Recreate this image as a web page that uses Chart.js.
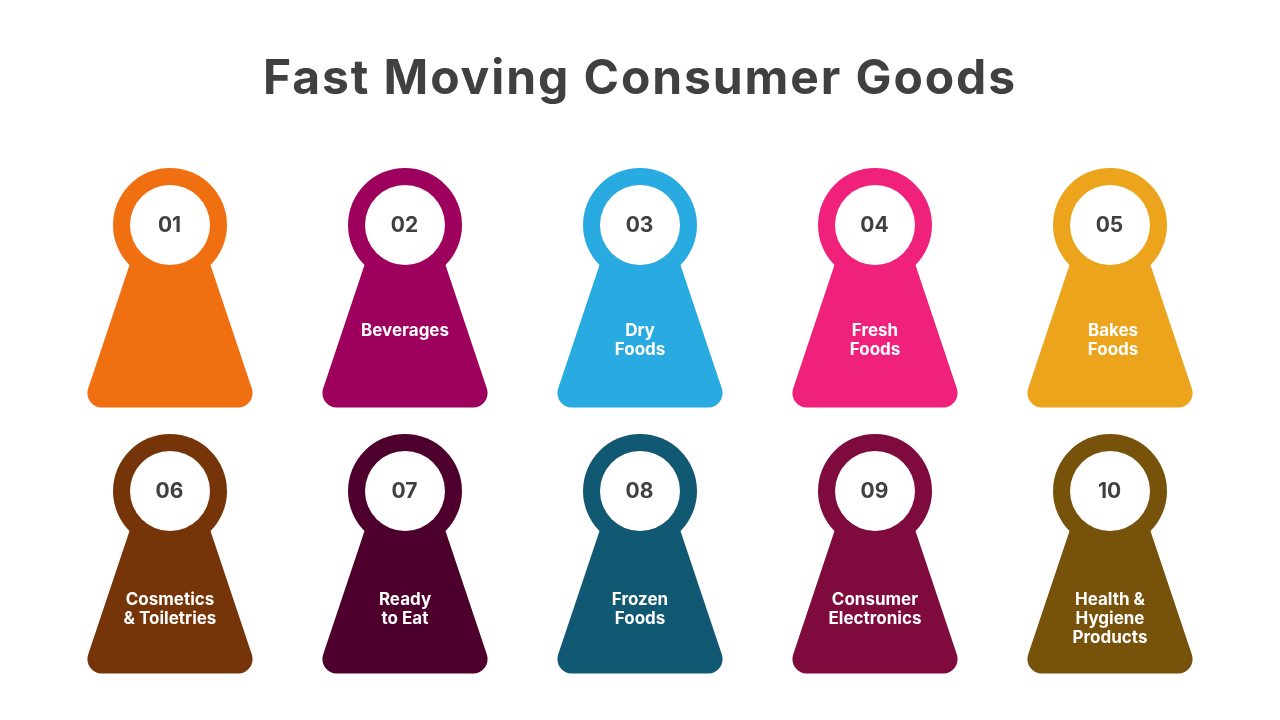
<!DOCTYPE html>
<html>
<head>
<meta charset="utf-8">
<title>Fast Moving Consumer Goods</title>
<script src="https://cdn.jsdelivr.net/npm/chart.js@4"></script>
<style>
    html, body { margin: 0; padding: 0; background: #ffffff; }
    canvas { display: block; }
</style>
</head>
<body>
<canvas id="goodsChart" width="1280" height="720"></canvas>
<script>
const titleText = 'Fast Moving Consumer Goods';
const numbers = ['01', '02', '03', '04', '05', '06', '07', '08', '09', '10'];
const categories = [
    [],
    ['Beverages'],
    ['Dry', 'Foods'],
    ['Fresh', 'Foods'],
    ['Bakes', 'Foods'],
    ['Cosmetics', '& Toiletries'],
    ['Ready', 'to Eat'],
    ['Frozen', 'Foods'],
    ['Consumer', 'Electronics'],
    ['Health &', 'Hygiene', 'Products']
];
const colors = ['#f07011', '#9e005d', '#29abe2', '#f0217a', '#eba41c', '#763508', '#4e002c', '#115872', '#7e0a3e', '#76520a'];

const fontName = 'Inter, "Open Sans", sans-serif';
const textColor = '#404040';

// builds the keyhole marker, the point sits in the middle of the ring
function makeMarker(color) {
    const c = document.createElement('canvas');
    c.width = 200;
    c.height = 400;
    const ctx = c.getContext('2d');
    const cx = 100, cy = 200;
    ctx.fillStyle = color;
    ctx.beginPath();
    ctx.arc(cx, cy, 57, 0, Math.PI * 2);
    ctx.fill();
    ctx.beginPath();
    ctx.moveTo(cx - 40.5, cy + 40);
    ctx.lineTo(cx + 40.5, cy + 40);
    ctx.arcTo(cx + 88.2, cy + 182.5, cx, cy + 182.5, 14.4);
    ctx.arcTo(cx - 88.2, cy + 182.5, cx - 40.5, cy + 40, 14.4);
    ctx.closePath();
    ctx.fill();
    ctx.fillStyle = '#ffffff';
    ctx.beginPath();
    ctx.arc(cx, cy, 40, 0, Math.PI * 2);
    ctx.fill();
    return c;
}

const cardText = {
    id: 'cardText',
    // the title font is narrower than the original, so it gets spaced out
    beforeDraw(chart) {
        chart.ctx.letterSpacing = '1.9px';
    },
    beforeDatasetsDraw(chart) {
        chart.ctx.letterSpacing = '0px';
    },
    afterDatasetsDraw(chart) {
        const ctx = chart.ctx;
        const points = chart.getDatasetMeta(0).data;
        ctx.save();
        ctx.textAlign = 'center';
        ctx.textBaseline = 'middle';
        points.forEach(function(point, i) {
            ctx.fillStyle = textColor;
            ctx.font = '700 21px ' + fontName;
            ctx.fillText(numbers[i], point.x - 0.5, point.y + 1);
            ctx.fillStyle = '#ffffff';
            ctx.font = '700 17px ' + fontName;
            const start = i < 5 ? 106 : 109;
            const x = i === 4 ? point.x + 3 : point.x; // Bakes Foods sits a bit off centre
            categories[i].forEach(function(line, n) {
                ctx.fillText(line, x, point.y + start + n * 19);
            });
        });
        ctx.restore();
    }
};

new Chart(document.getElementById('goodsChart'), {
    type: 'scatter',
    data: {
        datasets: [{
            data: numbers.map(function(n, i) {
                return { x: i % 5 + 1, y: Math.floor(i / 5) + 1 };
            }),
            pointStyle: colors.map(makeMarker),
            clip: false
        }]
    },
    options: {
        responsive: false,
        animation: false,
        events: [],
        layout: { padding: { left: 52.5, right: 52.5, bottom: 29.5 } },
        scales: {
            x: { display: false, min: 0.5, max: 5.5 },
            y: { display: false, min: 0.75, max: 2.75, reverse: true }
        },
        plugins: {
            legend: { display: false },
            tooltip: { enabled: false },
            title: {
                display: true,
                text: titleText,
                color: textColor,
                font: { family: fontName, size: 48, weight: '700', lineHeight: 1.2 },
                padding: { top: 51.2, bottom: 49.7 }
            }
        }
    },
    plugins: [cardText]
});
</script>
</body>
</html>
